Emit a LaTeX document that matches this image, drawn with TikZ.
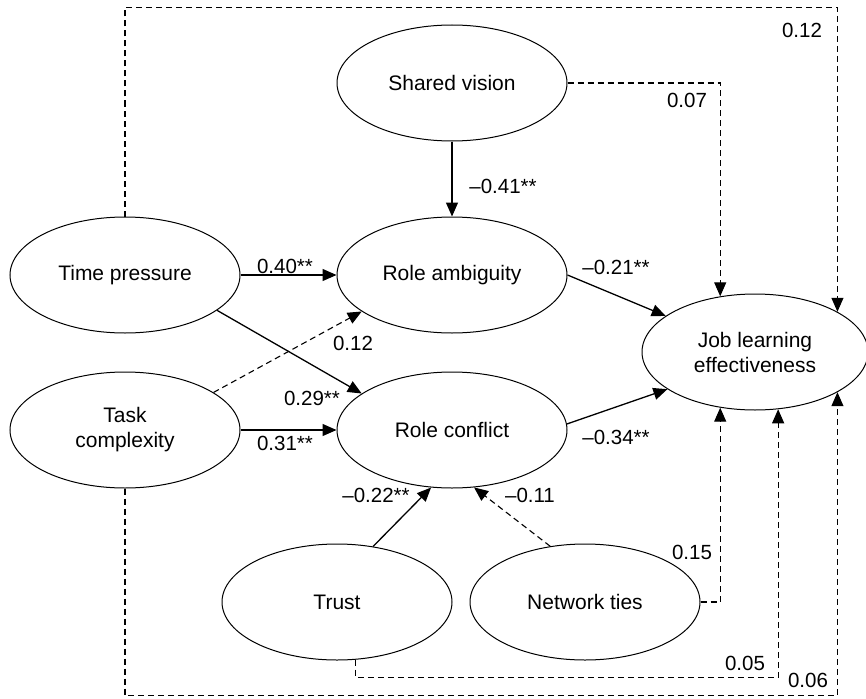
\documentclass[tikz,border=0pt]{standalone}
\usepackage{fontspec}
\setmainfont{Liberation Sans}
\usetikzlibrary{shapes.geometric,arrows.meta}
\begin{document}
\begin{tikzpicture}[x=1pt,y=-1pt,
  var/.style={ellipse,draw,line width=1pt,minimum width=230pt,minimum height=116pt,inner sep=0pt,align=center,font=\fontsize{21}{25}\selectfont},
  sol/.style={line width=1.3pt,-{Triangle[length=14pt,width=12pt]}},
  dsh/.style={line width=1.1pt,dash pattern=on 6pt off 4pt,-{Triangle[length=14pt,width=12pt]}},
  lab/.style={font=\fontsize{20.5}{23}\selectfont,inner sep=0pt}]
\useasboundingbox (0,0) rectangle (866,698);
% variables
\node[var] (sv) at (452,83) {Shared vision};
\node[var] (tp) at (125,275) {Time pressure};
\node[var] (ra) at (452,275) {Role ambiguity};
\node[var] (tc) at (125,430) {Task\\complexity};
\node[var] (rc) at (452,430) {Role conflict};
\node[var,minimum width=226pt] (jle) at (755,352) {Job learning\\effectiveness};
\node[var] (tr) at (337,602) {Trust};
\node[var] (nt) at (585,602) {Network ties};
% paths
\draw[sol] (sv.south) -- (ra.north);
\draw[sol] (tp.east) -- (ra.west);
\draw[sol] (tc.east) -- (rc.west);
\draw[sol] (tp.-21) -- (rc.158);
\draw[dsh] (tc.23) -- (ra.-158);
\draw[sol] (ra.east) -- (jle.158);
\draw[sol] (rc.3) -- (jle.-157);
\draw[sol] (tr.57) -- (rc.-110);
\draw[dsh] (nt.122.5) -- (rc.-69);
\draw[dsh] (nt.east) -| (jle.-122.6);
\draw[dsh] (sv.east) -| (jle.122.6);
\draw[dsh] (tr.-72.4) -- ++(0,18) -| (jle.-68.7);
\draw[dsh] (tc.south) -- ++(0,207) -| (jle.-26.9);
\draw[dsh] (tp.north) -- ++(0,-209) -| (jle.26.9);
% labels
\node[lab] (l1) at (802,30) {0.12};
\node[lab] (l2) at (687,100) {0.07};
\node[lab] (l3) at (503,186) {–0.41**};
\node[lab] (l4) at (285,266) {0.40**};
\node[lab] (l5) at (616,267) {–0.21**};
\node[lab] (l6) at (353,343) {0.12};
\node[lab] (l7) at (312,398) {0.29**};
\node[lab] (l8) at (285,443) {0.31**};
\node[lab] (l9) at (616,437) {–0.34**};
\node[lab] (l10) at (376,495) {–0.22**};
\node[lab] (l11) at (530,495) {–0.11};
\node[lab] (l12) at (692,552) {0.15};
\node[lab] (l13) at (745,663) {0.05};
\node[lab] (l14) at (808,680) {0.06};
\end{tikzpicture}
\end{document}
